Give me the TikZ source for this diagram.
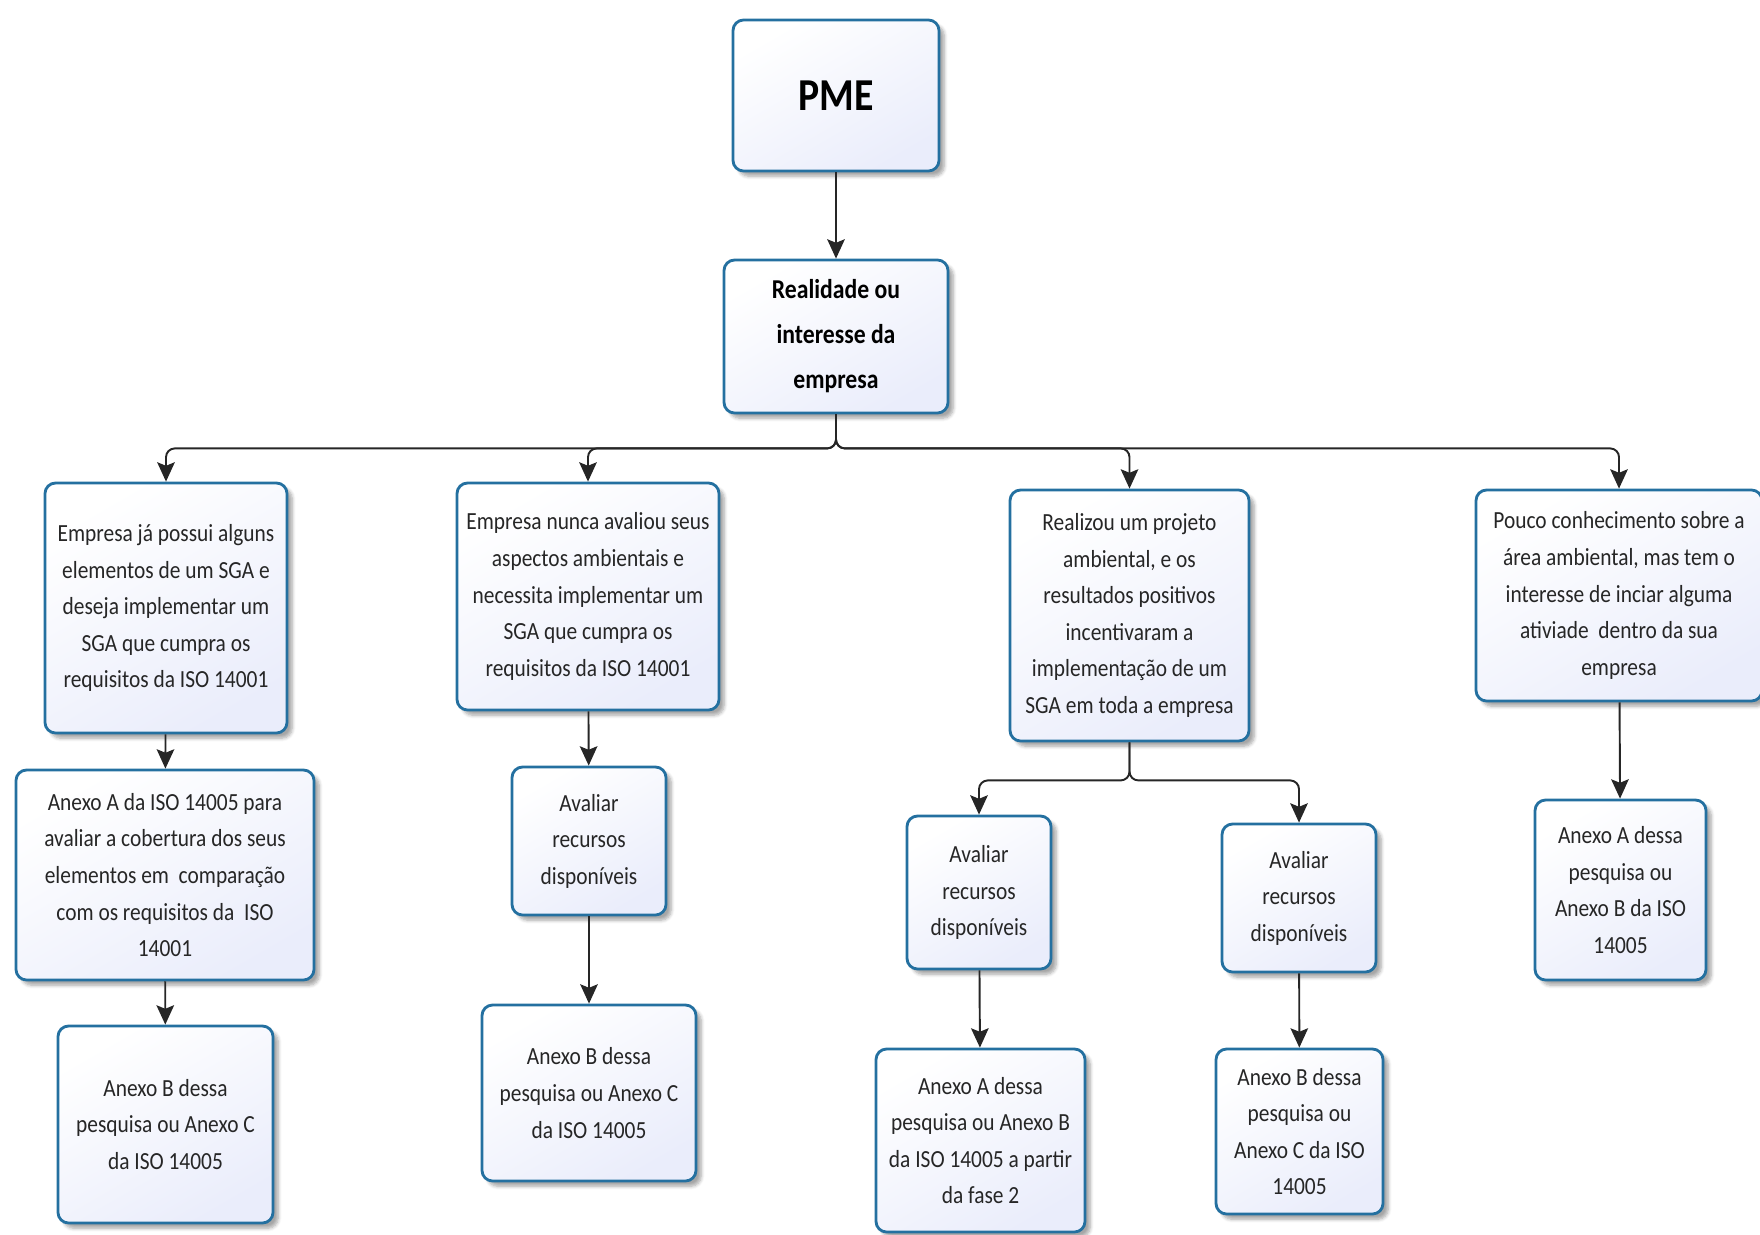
\documentclass[tikz,border=0pt]{standalone}
\usepackage{fontspec}
\setmainfont{Carlito}[FakeStretch=0.87]
\usetikzlibrary{arrows.meta,shadows.blur}

\definecolor{borda}{RGB}{36,112,160}
\definecolor{fundo}{RGB}{234,237,251}

\tikzset{
    caixa/.style={draw=borda, line width=1.6pt, rounded corners=6pt,
        top color=white, bottom color=fundo, shading angle=30,
        blur shadow={shadow xshift=3pt, shadow yshift=-3pt, shadow blur steps=6, shadow opacity=35},
        align=center, inner sep=0pt, text=black!85,
        font=\fontsize{14}{20.8}\selectfont},
    seta/.style={-{Stealth[length=11pt, width=10pt, inset=2pt]}, line width=1.1pt, black!85}
}

\begin{document}
\begin{tikzpicture}
    \useasboundingbox (0,0) rectangle (35.2,-24.68);

    \node[caixa, minimum width=4.12cm, minimum height=3.02cm, text=black,
        font=\fontsize{26}{28}\selectfont\bfseries] (pme) at (16.72,-1.91) {PME};
    \node[caixa, minimum width=4.48cm, minimum height=3.06cm, text=black,
        font=\fontsize{15.5}{25.6}\selectfont\bfseries] (real) at (16.72,-6.73) {Realidade ou\\interesse da\\empresa};

    \node[caixa, minimum width=4.84cm, minimum height=5.0cm] (s1) at (3.32,-12.16)
        {Empresa já possui alguns\\elementos de um SGA e\\deseja implementar um\\SGA que cumpra os\\requisitos da ISO 14001};
    \node[caixa, minimum width=5.24cm, minimum height=4.54cm] (s2) at (11.76,-11.93)
        {Empresa nunca avaliou seus\\aspectos ambientais e\\necessita implementar um\\SGA que cumpra os\\requisitos da ISO 14001};
    \node[caixa, minimum width=4.78cm, minimum height=5.02cm] (s3) at (22.59,-12.31)
        {Realizou um projeto\\ambiental, e os\\resultados positivos\\incentivaram a\\implementação de um\\SGA em toda a empresa};
    \node[caixa, minimum width=5.72cm, minimum height=4.22cm] (s4) at (32.38,-11.91)
        {Pouco conhecimento sobre a\\área ambiental, mas tem o\\interesse de inciar alguma\\ativiade~ dentro da sua\\empresa};

    \node[caixa, minimum width=5.96cm, minimum height=4.2cm] (s1a) at (3.30,-17.5)
        {Anexo A da ISO 14005 para\\avaliar a cobertura dos seus\\elementos em~ comparação\\com os requisitos da~ ISO\\14001};
    \node[caixa, minimum width=4.3cm, minimum height=3.94cm] (s1b) at (3.31,-22.49)
        {Anexo B dessa\\pesquisa ou Anexo C\\da ISO 14005};

    \node[caixa, minimum width=3.08cm, minimum height=2.96cm] (s2a) at (11.78,-16.82)
        {Avaliar\\recursos\\disponíveis};
    \node[caixa, minimum width=4.28cm, minimum height=3.52cm] (s2b) at (11.78,-21.86)
        {Anexo B dessa\\pesquisa ou Anexo C\\da ISO 14005};

    \node[caixa, minimum width=2.88cm, minimum height=3.06cm] (s3a) at (19.58,-17.85)
        {Avaliar\\recursos\\disponíveis};
    \node[caixa, minimum width=3.08cm, minimum height=2.96cm] (s3b) at (25.98,-17.96)
        {Avaliar\\recursos\\disponíveis};
    \node[caixa, minimum width=4.18cm, minimum height=3.66cm] (s3c) at (19.61,-22.81)
        {Anexo A dessa\\pesquisa ou Anexo B\\da ISO 14005 a partir\\da fase 2};
    \node[caixa, minimum width=3.34cm, minimum height=3.3cm] (s3d) at (25.99,-22.63)
        {Anexo B dessa\\pesquisa ou\\Anexo C da ISO\\14005};

    \node[caixa, minimum width=3.42cm, minimum height=3.6cm] (s4a) at (32.41,-17.8)
        {Anexo A dessa\\pesquisa ou\\Anexo B da ISO\\14005};

    % ligacoes
    \draw[seta] (pme) -- (real);
    \foreach \n in {s1,s2,s3,s4}
        \draw[seta, rounded corners=5pt] (real.south) -- ++(0,-0.68) -| (\n.north);
    \draw[seta] (s1) -- (s1a);
    \draw[seta] (s1a) -- (s1b);
    \draw[seta] (s2) -- (s2a);
    \draw[seta] (s2a) -- (s2b);
    \foreach \n in {s3a,s3b}
        \draw[seta, rounded corners=5pt] (s3.south) -- ++(0,-0.76) -| (\n.north);
    \draw[seta] (s3a) -- (s3c);
    \draw[seta] (s3b) -- (s3d);
    \draw[seta] (s4) -- (s4a);
\end{tikzpicture}
\end{document}
